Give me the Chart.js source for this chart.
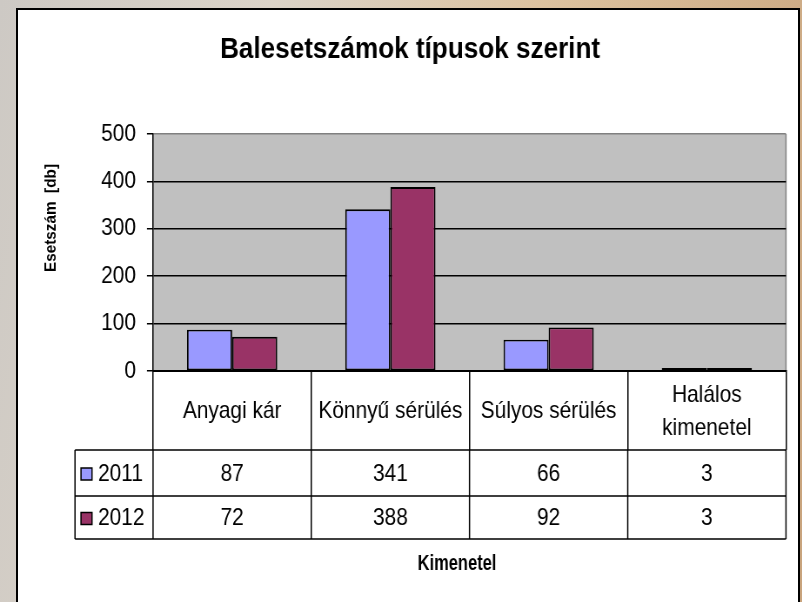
<!DOCTYPE html>
<html>
<head>
<meta charset="utf-8">
<script src="https://cdn.jsdelivr.net/npm/chart.js@4.4.1/dist/chart.umd.min.js"></script>
<style>
  html, body { margin: 0; padding: 0; width: 802px; height: 602px; overflow: hidden; }
  body {
    position: relative;
    background: linear-gradient(100deg, #cdc9c4 0%, #dbd3c8 30%, #dcc29f 60%, #c8a37c 100%);
  }
  #box { position: absolute; left: 16px; top: 8px; width: 780px; height: 620px; border: 2px solid #000; background: #fff; }
  #wrap { position: absolute; left: 0; top: 0; width: 802px; height: 602px; overflow: hidden; }
  /* the original chart is horizontally squeezed (narrow text), so the canvas is drawn wider and scaled down */
  #accidentChart { width: 922px; height: 602px; transform: scaleX(0.87); transform-origin: 0 0; }
</style>
</head>
<body>
<div id="box"></div>
<div id="wrap"><canvas id="accidentChart" width="922" height="602"></canvas></div>
<script>
const categories = ["Anyagi kár", "Könnyű sérülés", "Súlyos sérülés", ["Halálos", "kimenetel"]];
const seriesNames = ["2011", "2012"];
const values2011 = [87, 341, 66, 3];
const values2012 = [72, 388, 92, 3];
const seriesColors = ["#9999ff", "#993366"];

const SQ = 0.87;
const px = (v) => v / SQ; // page x -> canvas x
const FONT = '"Liberation Sans", Arial, sans-serif';
const HEADER_H = 79;
const ROW_H = [46, 43];

const plotBackground = {
  id: "plotBackground",
  beforeDraw(chart) {
    const { ctx, chartArea: a } = chart;
    ctx.save();
    ctx.fillStyle = "#c0c0c0";
    ctx.fillRect(a.left, a.top, a.right - a.left, a.bottom - a.top);
    ctx.strokeStyle = "#808080";
    ctx.lineWidth = 1.5;
    ctx.beginPath();
    ctx.moveTo(a.right, a.top);
    ctx.lineTo(a.right, a.bottom);
    ctx.stroke();
    ctx.restore();
  }
};

// data table under the plot + axis titles
const dataTable = {
  id: "dataTable",
  afterDraw(chart) {
    const { ctx, chartArea: a } = chart;
    const xs = chart.scales.x;
    const c0 = xs.getPixelForValue(0);
    const w = xs.getPixelForValue(1) - c0;
    const left = c0 - w / 2;
    const legendLeft = px(75);
    const rows = [values2011, values2012];
    const y = a.bottom + HEADER_H;
    const bottom = y + ROW_H[0] + ROW_H[1];

    ctx.save();
    ctx.strokeStyle = "#000";
    ctx.lineWidth = 1.5;
    ctx.beginPath();
    let yy = y;
    ctx.moveTo(legendLeft, yy); ctx.lineTo(a.right, yy);
    yy += ROW_H[0];
    ctx.moveTo(legendLeft, yy); ctx.lineTo(a.right, yy);
    yy += ROW_H[1];
    ctx.moveTo(legendLeft, yy); ctx.lineTo(a.right, yy);
    ctx.moveTo(legendLeft, y); ctx.lineTo(legendLeft, bottom);
    for (let i = 0; i <= categories.length; i++) {
      const x = left + i * w;
      ctx.moveTo(x, y); ctx.lineTo(x, bottom);
    }
    ctx.stroke();

    ctx.textBaseline = "middle";
    ctx.font = "24px " + FONT;
    rows.forEach((vals, r) => {
      const rowTop = y + (r === 0 ? 0 : ROW_H[0]);
      const cy = rowTop + ROW_H[r] / 2 + 1;
      ctx.fillStyle = seriesColors[r];
      ctx.fillRect(px(81), cy - 6, px(11), 12);
      ctx.strokeRect(px(81), cy - 6, px(11), 12);
      ctx.fillStyle = "#000";
      ctx.textAlign = "left";
      ctx.fillText(seriesNames[r], px(98), cy);
      ctx.textAlign = "center";
      vals.forEach((v, i) => ctx.fillText(String(v), xs.getPixelForValue(i), cy));
    });

    // x axis title
    ctx.textAlign = "center";
    ctx.save();
    ctx.translate(px(457), 564);
    ctx.scale(0.86, 1);
    ctx.font = "bold 22px " + FONT;
    ctx.fillText("Kimenetel", 0, 0);
    ctx.restore();

    // y axis title
    ctx.translate(px(51), 218);
    ctx.rotate(-Math.PI / 2);
    ctx.scale(0.85, 1);
    ctx.font = "bold 18px " + FONT;
    ctx.fillText("Esetszám  [db]", 0, 0);
    ctx.restore();
  }
};

const accidentCtx = document.getElementById("accidentChart").getContext("2d");
const accidentChart = new Chart(accidentCtx, {
  type: "bar",
  data: {
    labels: categories,
    datasets: [
      { label: seriesNames[0], data: values2011, backgroundColor: seriesColors[0] },
      { label: seriesNames[1], data: values2012, backgroundColor: seriesColors[1] }
    ]
  },
  options: {
    responsive: false,
    animation: false,
    layout: { padding: { left: 39.2, right: 18.6, top: 0, bottom: 0 } },
    datasets: {
      bar: {
        borderColor: "#000",
        borderWidth: 1.8,
        borderSkipped: false,
        minBarLength: 3,
        categoryPercentage: 0.57,
        barPercentage: 1
      }
    },
    plugins: {
      legend: { display: false },
      tooltip: { enabled: false },
      title: {
        display: true,
        text: "Balesetszámok típusok szerint",
        color: "#000",
        font: { family: FONT, size: 30, weight: "bold", lineHeight: 1.2 },
        padding: { top: 32, bottom: 66 }
      }
    },
    scales: {
      x: {
        afterFit(scale) { scale.height = 231; },
        border: { display: true, color: "#000", width: 2 },
        grid: {
          offset: true,
          drawOnChartArea: false,
          drawTicks: true,
          tickLength: HEADER_H,
          color: "#000",
          lineWidth: 1.5
        },
        ticks: {
          color: "#000",
          font: { family: FONT, size: 24, lineHeight: 1.375 },
          crossAlign: "center",
          padding: 24 - HEADER_H,
          autoSkip: false,
          maxRotation: 0
        }
      },
      y: {
        min: 0,
        max: 500,
        afterFit(scale) { scale.width = 136.7; },
        border: { display: true, color: "#000", width: 1.5 },
        grid: {
          color: (c) => (c.tick && c.tick.value === 500 ? "#808080" : "#000"),
          tickColor: "#000",
          lineWidth: 1.5,
          tickLength: 7
        },
        ticks: {
          stepSize: 100,
          color: "#000",
          padding: 12.6,
          font: { family: FONT, size: 24 }
        }
      }
    }
  },
  plugins: [plotBackground, dataTable]
});
</script>
</body>
</html>
